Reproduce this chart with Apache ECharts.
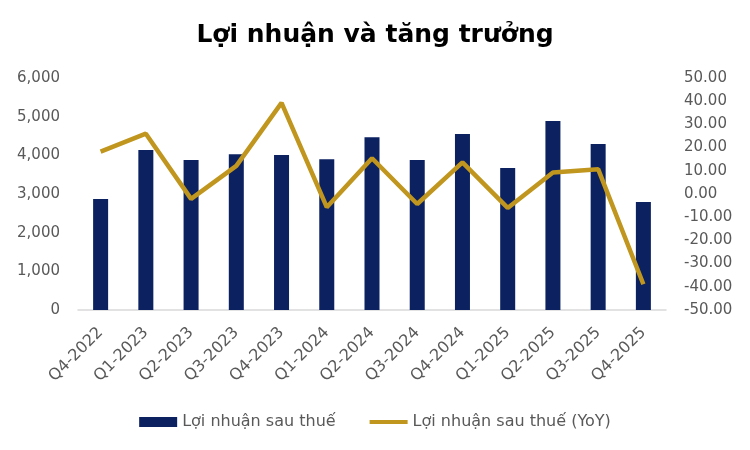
<!DOCTYPE html>
<html>
<head>
<meta charset="utf-8">
<script src="https://cdn.jsdelivr.net/npm/echarts@6/dist/echarts.min.js"></script>
<style>html,body{margin:0;padding:0;background:#fff}#c{width:750px;height:450px}</style>
</head>
<body>
<div id="c"></div>
<script>
var categories = ['Q4-2022','Q1-2023','Q2-2023','Q3-2023','Q4-2023','Q1-2024','Q2-2024','Q3-2024','Q4-2024','Q1-2025','Q2-2025','Q3-2025','Q4-2025'];
var profit = [2870, 4140, 3880, 4030, 4010, 3900, 4470, 3880, 4550, 3670, 4890, 4290, 2790];
var yoy = [18.3, 26.0, -2.1, 12.1, 39.3, -5.7, 15.4, -4.3, 13.6, -6.0, 9.3, 10.7, -38.9];
var title = 'Lợi nhuận và tăng trưởng';
var seriesNames = ['Lợi nhuận sau thuế', 'Lợi nhuận sau thuế (YoY)'];

var FONT = 'DejaVu Sans';
var chart = echarts.init(document.getElementById('c'));
chart.setOption({
  animation: false,
  backgroundColor: '#fff',
  title: {
    text: title, left: 'center', top: 18,
    textStyle: {fontFamily: FONT, fontSize: 25, fontWeight: 'bold', color: '#000'}
  },
  legend: {
    top: 409, left: 'center', itemGap: 34,
    itemWidth: 38, itemHeight: 10,
    textStyle: {fontFamily: FONT, fontSize: 16, color: '#595959'},
    data: [
      {name: seriesNames[0], icon: 'rect'},
      {name: seriesNames[1], icon: 'path://M0,0 L38,0 L38,4 L0,4 Z', itemStyle: {color: '#C0961E'}}
    ]
  },
  grid: {left: 78, right: 84, top: 78, bottom: 140, containLabel: false},
  xAxis: {
    type: 'category', data: categories,
    axisLine: {lineStyle: {color: '#D9D9D9', width: 1.5}},
    axisTick: {show: false},
    axisLabel: {rotate: 45, margin: 20, fontFamily: FONT, fontSize: 16, color: '#595959', interval: 0}
  },
  yAxis: [
    {
      type: 'value', min: 0, max: 6000, interval: 1000,
      splitLine: {show: false}, axisLine: {show: false}, axisTick: {show: false},
      axisLabel: {margin: 18, fontFamily: FONT, fontSize: 15, color: '#595959',
        formatter: function(v){return v.toLocaleString('en-US');}}
    },
    {
      type: 'value', min: -50, max: 50, interval: 10, position: 'right',
      splitLine: {show: false}, axisLine: {show: false}, axisTick: {show: false},
      axisLabel: {margin: 18, fontFamily: FONT, fontSize: 15, color: '#595959',
        formatter: function(v){return v.toFixed(2);}}
    }
  ],
  series: [
    {
      name: seriesNames[0], type: 'bar', data: profit, yAxisIndex: 0,
      barWidth: 15, itemStyle: {color: '#0B2160'}
    },
    {
      name: seriesNames[1], type: 'line', data: yoy, yAxisIndex: 1,
      symbol: 'none', lineStyle: {color: '#C0961E', width: 4.5}, itemStyle: {color: '#C0961E'}
    }
  ]
});
</script>
</body>
</html>
